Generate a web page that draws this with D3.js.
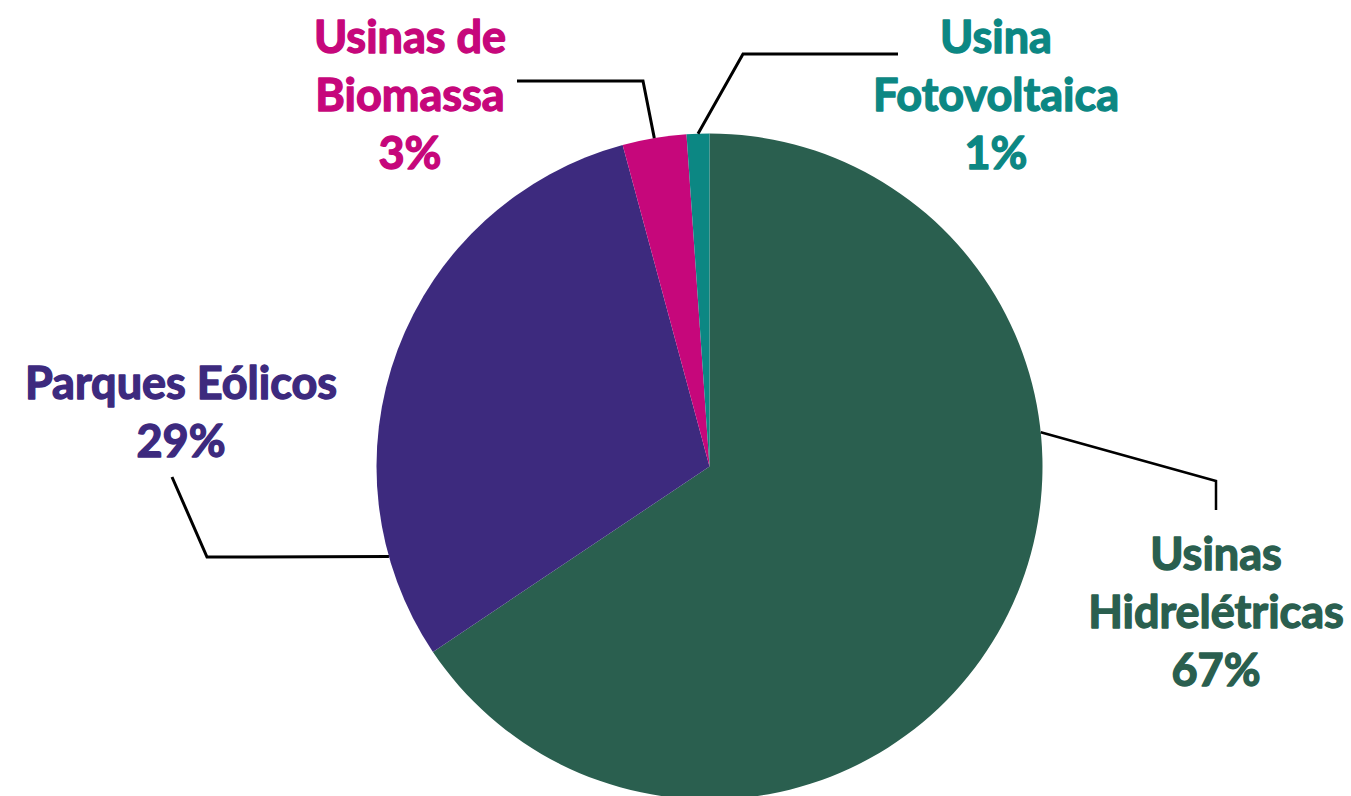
<!DOCTYPE html>
<html>
<head>
<meta charset="utf-8">
<script src="https://cdn.jsdelivr.net/npm/d3@7"></script>
<style>
  body { margin: 0; background: #fff; }
  text { font-family: Lato, "Open Sans", sans-serif; font-weight: 700; }
</style>
</head>
<body>
<svg id="chart" width="1351" height="796"></svg>
<script>
// data
const categories = ["Usinas Hidrelétricas", "Parques Eólicos", "Usinas de Biomassa", "Usina Fotovoltaica"];
const shares = [65.6, 30.2, 3.1, 1.1];
const pctLabels = ["67%", "29%", "3%", "1%"];
const labelLines = [["Usinas", "Hidrelétricas"], ["Parques Eólicos"], ["Usinas de", "Biomassa"], ["Usina", "Fotovoltaica"]];
const colors = ["#2a5f4f", "#3d2a7e", "#c6077b", "#0c8783"];

const width = 1351, height = 796;
const cx = 709.5, cy = 466.5, radius = 333;

let svg = d3.select("#chart");
let g = svg.append("g").attr("transform", "translate(" + cx + "," + cy + ")");

let color = d3.scaleOrdinal().domain(categories).range(colors);

let pie = d3.pie().sort(null).value(function(d, i) { return shares[i]; });
let arcs = pie(categories);
let arc = d3.arc().innerRadius(0).outerRadius(radius);

g.selectAll("path")
  .data(arcs)
  .enter().append("path")
    .attr("d", arc)
    .attr("fill", function(d) { return color(d.data); });

// leader lines: start angle on the rim (null = slice middle), then elbow & end (absolute)
const leaders = [
  { angle: 84.1, pts: [[1216, 481], [1216, 510]], w: 2.5 },
  { angle: 254.3, pts: [[207, 557], [172, 477]], w: 3 },
  { angle: null, pts: [[643, 81], [517, 81]], w: 3 },
  { angle: null, pts: [[743, 54], [898, 54]], w: 3 }
];

leaders.forEach(function(l, i) {
  let a = l.angle === null ? (arcs[i].startAngle + arcs[i].endAngle) / 2 : l.angle * Math.PI / 180;
  let start = [cx + radius * Math.sin(a), cy - radius * Math.cos(a)];
  svg.append("path")
    .attr("d", d3.line()([start].concat(l.pts)))
    .attr("fill", "none")
    .attr("stroke", "#000")
    .attr("stroke-width", l.w);
});

// labels (thin same-colour stroke to get closer to the heavy weight)
const labelPos = [
  { x: 1216, y: 570 },
  { x: 181, y: 399 },
  { x: 410, y: 53 },
  { x: 996, y: 53 }
];
const lineH = 58;

categories.forEach(function(c, i) {
  let lines = labelLines[i].concat([pctLabels[i]]);
  let t = svg.append("text")
    .attr("text-anchor", "middle")
    .attr("fill", color(c))
    .attr("stroke", color(c))
    .attr("stroke-width", 1.4)
    .attr("stroke-linejoin", "round")
    .style("font-size", "45px");
  lines.forEach(function(s, j) {
    t.append("tspan")
      .attr("x", labelPos[i].x)
      .attr("y", labelPos[i].y + j * lineH)
      .text(s);
  });
});
</script>
</body>
</html>
